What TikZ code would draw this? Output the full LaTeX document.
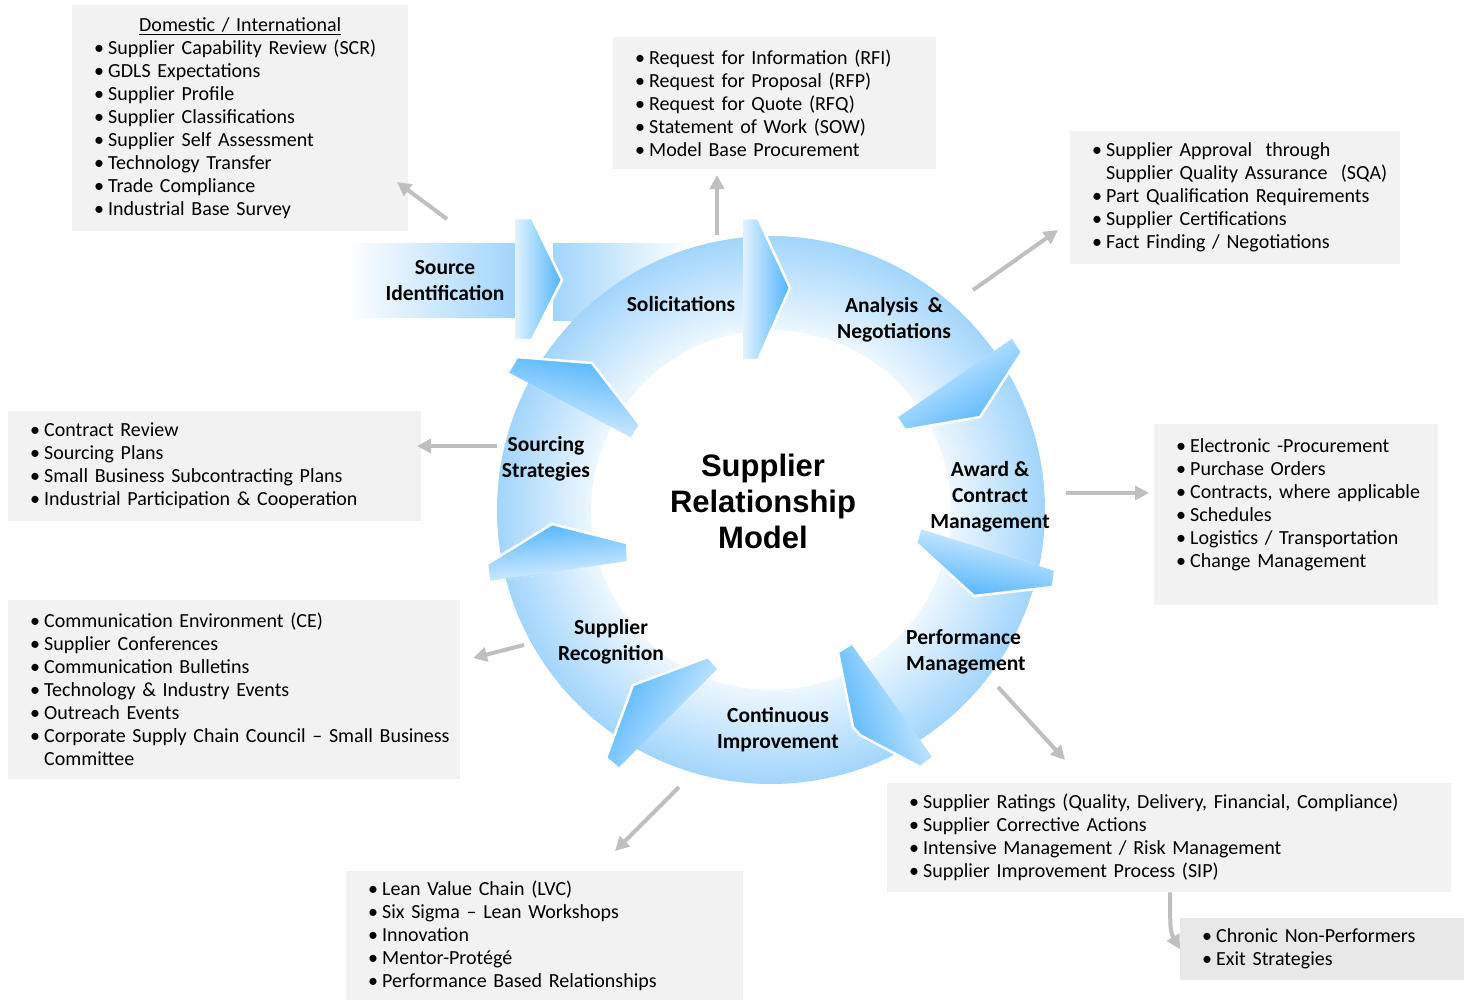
\documentclass[tikz,border=0pt]{standalone}
\usepackage{fontspec}
\setmainfont{Carlito}
\newfontfamily\titlefont{Liberation Sans}
\usetikzlibrary{arrows.meta,calc}

\definecolor{boxGray}{RGB}{242,242,242}
\definecolor{boxGrayDark}{RGB}{232,232,232}
\definecolor{arrowGray}{RGB}{191,191,191}
\definecolor{ringDark}{RGB}{162,213,251}
\definecolor{ringLight}{RGB}{237,247,255}
\definecolor{headDark}{RGB}{80,180,252}
\definecolor{headLight}{RGB}{226,242,255}

\pgfdeclareradialshading{ringfill}{\pgfpoint{0bp}{0bp}}{color(0bp)=(ringLight); color(16.4bp)=(ringLight); color(25bp)=(ringDark); color(50bp)=(ringDark)}

\newcommand{\boxfont}{\fontsize{20bp}{23bp}\selectfont\spaceskip=0.17em plus 0.05em minus 0.02em\relax}
\newcommand{\stagefont}{\fontsize{21.5bp}{26bp}\selectfont\bfseries}
\newcommand{\bl}[1]{\mbox{\makebox[14bp][l]{\textbullet}#1}}
\newcommand{\cont}[1]{\mbox{\hspace*{14bp}#1}}
\newcommand{\arrowhead}[2]{%
  \shade[top color=headDark, bottom color=headLight, shading angle=#1] #2 -- cycle;
  \draw[headedge] #2;}

\tikzset{
  gbox/.style={fill=boxGray, inner xsep=22bp, inner ysep=0bp, align=left, anchor=north west, font=\boxfont},
  stagelabel/.style={font=\stagefont, align=center, inner sep=0pt},
  conn/.style={draw=arrowGray, line width=4bp, -{Triangle[length=14bp,width=14bp]}},
  headedge/.style={draw=white, line width=2.5bp, line join=round},
}

\begin{document}
\begin{tikzpicture}[x=1bp, y=1bp]
\fill[white] (0,0) rectangle (1471,-1000);
\useasboundingbox (0,0) rectangle (1471,-1000);

% source identification band
\shade[left color=white, right color=ringDark] (345,-243) rectangle (515,-317);
\shade[left color=ringDark, right color=white] (553,-243) rectangle (690,-320);

% ring segments
\begin{scope}[shift={(771,-510)}]
\foreach \so/\si/\eo/\ei in {152.5/152.5/95.9/98.9, 95.9/98.9/35.5/36.0, 35.5/36.0/-11.6/-8.3, -11.6/-8.3/-57.2/-58.8, -57.2/-58.8/-119.3/-110.6, -119.3/-110.6/-165.2/-161.5, -165.2/-161.5/-207.5/-207.5}
{
  \begin{scope}
    \clip (\so:274) arc[start angle=\so, end angle=\eo, radius=274] -- (\ei:180) arc[start angle=\ei, end angle=\si, radius=180] -- cycle;
    \shade[shading=ringfill] (0,0) circle (274);
  \end{scope}
}
\end{scope}

% arrow heads
\arrowhead{-90}{(515,-218) -- (532,-218) -- (562,-280) -- (532,-340) -- (515,-340)}
\arrowhead{-90}{(743,-218) -- (758,-218) -- (790,-288) -- (758,-360) -- (743,-360)}
\arrowhead{-150}{(1013,-338) -- (1022,-352) -- (980,-417) -- (905,-430) -- (897,-418)}
\arrowhead{170}{(1055,-571) -- (1053,-587) -- (974,-596) -- (916,-543) -- (920,-529)}
\arrowhead{110}{(933,-758) -- (920,-767) -- (860,-735) -- (853,-727) -- (838,-652) -- (851,-644)}
\arrowhead{60}{(618,-768) -- (606,-758) -- (633,-685) -- (708,-657) -- (718,-668)}
\arrowhead{5}{(489,-581) -- (487,-564) -- (552,-524) -- (627,-543) -- (628,-561)}
\arrowhead{-10}{(508,-372) -- (517,-357) -- (592,-363) -- (640,-425) -- (632,-438)}

% stage labels
\node[stagelabel] (srcId) at (445,-281) {Source\\Identification};
\node[stagelabel] (sol) at (681,-304) {Solicitations};
\node[stagelabel] (ana) at (894,-320) {Analysis~ \&\\Negotiations};
\node[stagelabel] (awd) at (990,-497) {Award \&\\Contract\\Management};
\node[stagelabel, align=left, anchor=west] (perf) at (906,-652) {Performance\\Management};
\node[stagelabel] (cont) at (778,-730) {Continuous\\Improvement};
\node[stagelabel] (rec) at (611,-642) {Supplier\\Recognition};
\node[stagelabel] (strat) at (546,-459) {Sourcing\\Strategies};
\node[align=center, font=\titlefont\bfseries\fontsize{31bp}{36bp}\selectfont] (title) at (763,-501) {Supplier\\Relationship\\Model};

% detail boxes
\node[gbox, text width=292bp, minimum height=226bp] (boxDom) at (72,-5) {\makebox[292bp][c]{\underline{Domestic / International}}\\
  \bl{Supplier Capability Review (SCR)}\\ \bl{GDLS Expectations}\\ \bl{Supplier Profile}\\ \bl{Supplier Classifications}\\
  \bl{Supplier Self Assessment}\\ \bl{Technology Transfer}\\ \bl{Trade Compliance}\\ \bl{Industrial Base Survey}};
\node[gbox, text width=279bp, minimum height=132bp] (boxSol) at (613,-37) {\bl{Request for Information (RFI)}\\
  \bl{Request for Proposal (RFP)}\\ \bl{Request for Quote (RFQ)}\\ \bl{Statement of Work (SOW)}\\ \bl{Model Base Procurement}};
\node[gbox, text width=286bp, minimum height=133bp] (boxAna) at (1070,-131) {\bl{Supplier Approval~ through}\\
  \cont{Supplier Quality Assurance~ (SQA)}\\ \bl{Part Qualification Requirements}\\ \bl{Supplier Certifications}\\ \bl{Fact Finding / Negotiations}};
\node[gbox, text width=369bp, minimum height=110bp] (boxStrat) at (8,-411) {\bl{Contract Review}\\ \bl{Sourcing Plans}\\
  \bl{Small Business Subcontracting Plans}\\ \bl{Industrial Participation \& Cooperation}};
\node[gbox, text width=240bp, minimum height=181bp] (boxAwd) at (1154,-424) {\bl{Electronic -Procurement}\\ \bl{Purchase Orders}\\
  \bl{Contracts, where applicable}\\ \bl{Schedules}\\ \bl{Logistics / Transportation}\\ \bl{Change Management}\\ \mbox{}};
\node[gbox, text width=408bp, minimum height=179bp] (boxRec) at (8,-600) {\bl{Communication Environment (CE)}\\
  \bl{Supplier Conferences}\\ \bl{Communication Bulletins}\\ \bl{Technology \& Industry Events}\\ \bl{Outreach Events}\\
  \bl{Corporate Supply Chain Council -- Small Business}\\ \cont{Committee}};
\node[gbox, text width=353bp, minimum height=129bp] (boxCont) at (346,-871) {\bl{Lean Value Chain (LVC)}\\
  \bl{Six Sigma -- Lean Workshops}\\ \bl{Innovation}\\ \bl{Mentor-Protégé}\\ \bl{Performance Based Relationships}};
\node[gbox, text width=520bp, minimum height=109bp] (boxPerf) at (887,-783) {\bl{Supplier Ratings (Quality, Delivery, Financial, Compliance)}\\
  \bl{Supplier Corrective Actions}\\ \bl{Intensive Management / Risk Management}\\ \bl{Supplier Improvement Process (SIP)}};
\node[gbox, fill=boxGrayDark, text width=240bp, minimum height=62bp] (boxExit) at (1180,-918) {\bl{Chronic Non-Performers}\\ \bl{Exit Strategies}};

% connectors
\coordinate (srcOut) at (447,-219);
\coordinate (domIn) at (397,-182);
\coordinate (solOut) at (717,-235);
\coordinate (solIn) at (717,-175);
\coordinate (anaOut) at (973,-290);
\coordinate (anaIn) at (1058,-230);
\coordinate (stratOut) at (497,-446);
\coordinate (stratIn) at (417,-446);
\coordinate (awdOut) at (1066,-493);
\coordinate (awdIn) at (1149,-493);
\coordinate (recOut) at (524,-645);
\coordinate (recIn) at (473,-658);
\coordinate (contOut) at (679,-787);
\coordinate (contIn) at (615,-851);
\coordinate (perfOut) at (998,-687);
\coordinate (perfIn) at (1065,-760);
\coordinate (exitOut) at ($(boxPerf.south west)+(283,0)$);

\draw[conn] (srcOut) -- (domIn);
\draw[conn] (solOut) -- (solIn);
\draw[conn] (anaOut) -- (anaIn);
\draw[conn] (stratOut) -- (stratIn);
\draw[conn] (awdOut) -- (awdIn);
\draw[conn] (recOut) -- (recIn);
\draw[conn] (contOut) -- (contIn);
\draw[conn] (perfOut) -- (perfIn);
\draw[conn] (exitOut) to[out=-88, in=120] (boxExit.west);
\end{tikzpicture}
\end{document}
